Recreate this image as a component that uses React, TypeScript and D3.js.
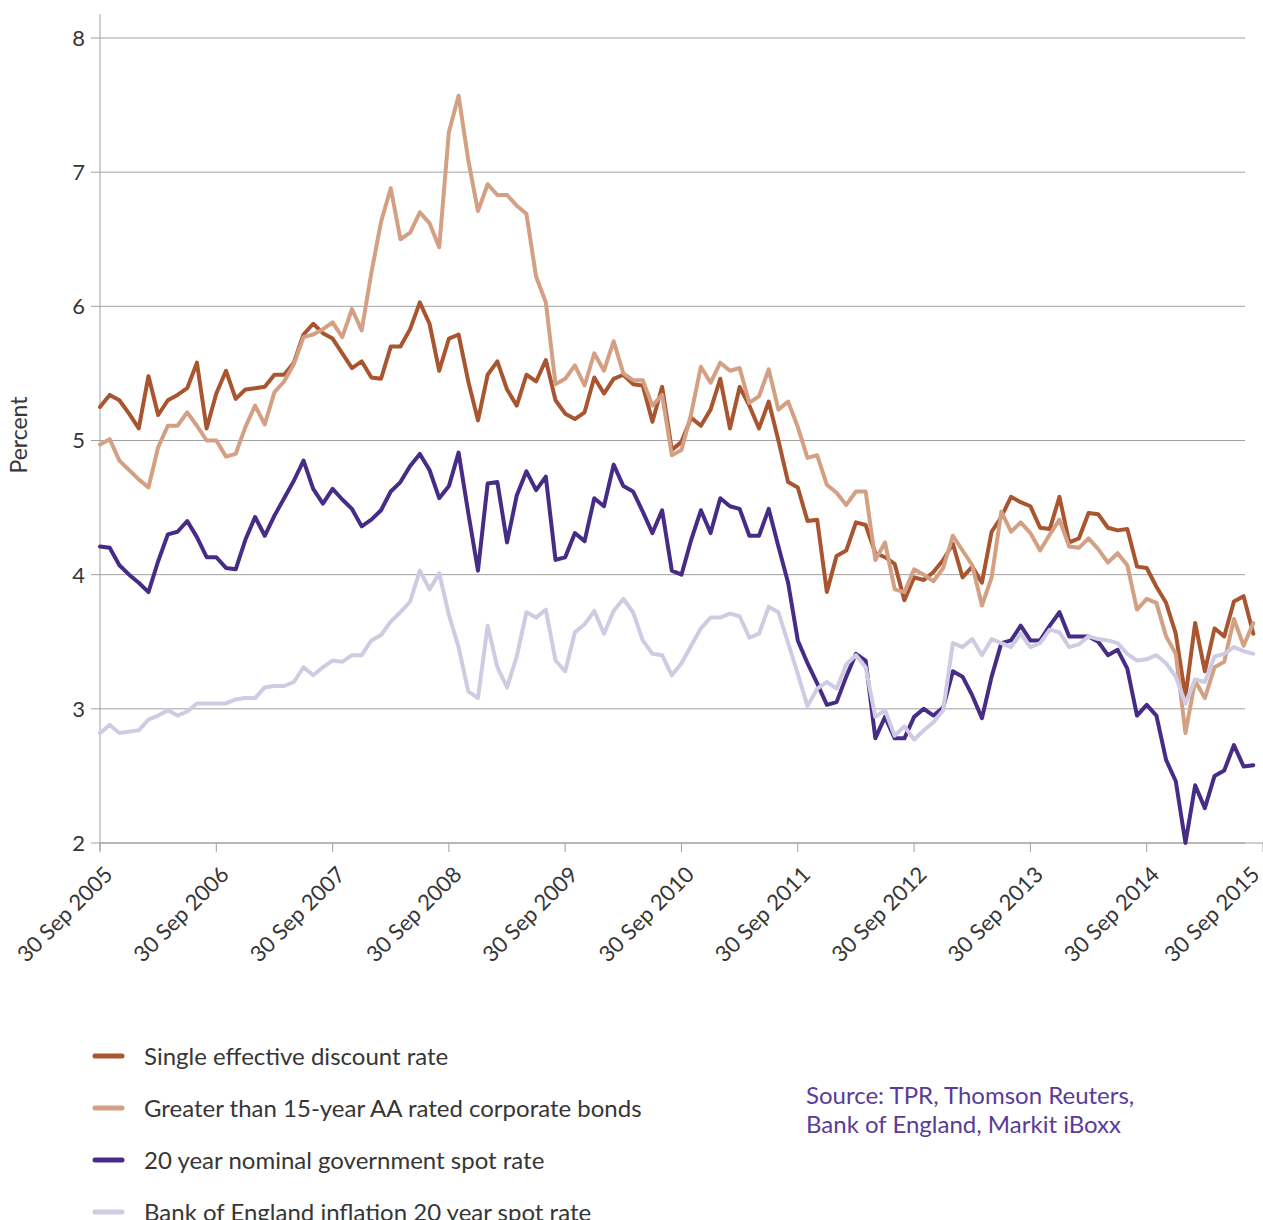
import React from 'react';
import * as d3 from 'd3';

const tickLabels = [
  '30 Sep 2005', '30 Sep 2006', '30 Sep 2007', '30 Sep 2008', '30 Sep 2009', '30 Sep 2010',
  '30 Sep 2011', '30 Sep 2012', '30 Sep 2013', '30 Sep 2014', '30 Sep 2015',
];
const yTicks = [2, 3, 4, 5, 6, 7, 8];

// Monthly observations from 30 Sep 2005
const sedr = [
  5.25, 5.34, 5.30, 5.20, 5.09, 5.48, 5.19, 5.30, 5.34, 5.39,
  5.58, 5.09, 5.35, 5.52, 5.31, 5.38, 5.39, 5.40, 5.49, 5.49,
  5.58, 5.79, 5.87, 5.80, 5.76, 5.65, 5.54, 5.59, 5.47, 5.46,
  5.70, 5.70, 5.83, 6.03, 5.87, 5.52, 5.76, 5.79, 5.44, 5.15,
  5.49, 5.59, 5.38, 5.26, 5.49, 5.44, 5.60, 5.30, 5.20, 5.16,
  5.21, 5.47, 5.35, 5.46, 5.49, 5.42, 5.41, 5.14, 5.40, 4.93,
  4.99, 5.17, 5.11, 5.23, 5.46, 5.09, 5.40, 5.26, 5.09, 5.29,
  5.00, 4.69, 4.65, 4.40, 4.41, 3.87, 4.14, 4.18, 4.39, 4.37,
  4.16, 4.13, 4.08, 3.81, 3.98, 3.96, 4.02, 4.11, 4.23, 3.98,
  4.06, 3.94, 4.32, 4.43, 4.58, 4.54, 4.51, 4.35, 4.34, 4.58,
  4.24, 4.27, 4.46, 4.45, 4.35, 4.33, 4.34, 4.06, 4.05, 3.91,
  3.79, 3.56, 3.09, 3.64, 3.28, 3.60, 3.54, 3.80, 3.84, 3.56,
];
const corporate = [
  4.97, 5.01, 4.85, 4.78, 4.71, 4.65, 4.95, 5.11, 5.11, 5.21,
  5.11, 5.00, 5.00, 4.88, 4.90, 5.10, 5.26, 5.12, 5.36, 5.44,
  5.57, 5.77, 5.79, 5.83, 5.88, 5.77, 5.98, 5.82, 6.25, 6.63,
  6.88, 6.50, 6.55, 6.70, 6.62, 6.44, 7.30, 7.57, 7.09, 6.71,
  6.91, 6.83, 6.83, 6.75, 6.69, 6.22, 6.03, 5.42, 5.46, 5.56,
  5.41, 5.65, 5.52, 5.74, 5.50, 5.45, 5.45, 5.26, 5.34, 4.89,
  4.93, 5.20, 5.55, 5.43, 5.58, 5.52, 5.54, 5.28, 5.33, 5.53,
  5.23, 5.29, 5.10, 4.87, 4.89, 4.67, 4.61, 4.52, 4.62, 4.62,
  4.11, 4.24, 3.89, 3.87, 4.04, 4.00, 3.95, 4.05, 4.29, 4.18,
  4.07, 3.77, 3.98, 4.47, 4.32, 4.39, 4.31, 4.18, 4.30, 4.41,
  4.21, 4.20, 4.27, 4.19, 4.09, 4.16, 4.07, 3.74, 3.82, 3.79,
  3.54, 3.41, 2.82, 3.21, 3.08, 3.31, 3.35, 3.67, 3.47, 3.64,
];
const gilt = [
  4.21, 4.20, 4.07, 4.00, 3.94, 3.87, 4.10, 4.30, 4.32, 4.40,
  4.28, 4.13, 4.13, 4.05, 4.04, 4.26, 4.43, 4.29, 4.44, 4.57,
  4.70, 4.85, 4.64, 4.53, 4.64, 4.56, 4.49, 4.36, 4.41, 4.48,
  4.62, 4.69, 4.81, 4.90, 4.78, 4.57, 4.66, 4.91, 4.46, 4.03,
  4.68, 4.69, 4.24, 4.59, 4.77, 4.63, 4.73, 4.11, 4.13, 4.31,
  4.25, 4.57, 4.51, 4.82, 4.66, 4.62, 4.47, 4.31, 4.48, 4.03,
  4.00, 4.26, 4.48, 4.31, 4.57, 4.51, 4.49, 4.29, 4.29, 4.49,
  4.21, 3.94, 3.51, 3.34, 3.19, 3.03, 3.05, 3.24, 3.41, 3.36,
  2.78, 2.94, 2.78, 2.78, 2.94, 3.00, 2.95, 3.01, 3.28, 3.24,
  3.10, 2.93, 3.24, 3.49, 3.51, 3.62, 3.51, 3.51, 3.62, 3.72,
  3.54, 3.54, 3.54, 3.50, 3.40, 3.44, 3.30, 2.95, 3.03, 2.95,
  2.62, 2.46, 2.00, 2.43, 2.26, 2.50, 2.54, 2.73, 2.57, 2.58,
];
const inflation = [
  2.82, 2.88, 2.82, 2.83, 2.84, 2.92, 2.95, 2.99, 2.95, 2.98,
  3.04, 3.04, 3.04, 3.04, 3.07, 3.08, 3.08, 3.16, 3.17, 3.17,
  3.20, 3.31, 3.25, 3.31, 3.36, 3.35, 3.40, 3.40, 3.51, 3.55,
  3.65, 3.72, 3.80, 4.03, 3.89, 4.01, 3.70, 3.46, 3.13, 3.08,
  3.62, 3.31, 3.16, 3.39, 3.72, 3.68, 3.74, 3.36, 3.28, 3.57,
  3.63, 3.73, 3.56, 3.73, 3.82, 3.72, 3.51, 3.41, 3.40, 3.25,
  3.34, 3.47, 3.60, 3.68, 3.68, 3.71, 3.69, 3.53, 3.56, 3.76,
  3.72, 3.49, 3.26, 3.02, 3.15, 3.20, 3.15, 3.33, 3.40, 3.31,
  2.94, 2.99, 2.80, 2.87, 2.77, 2.84, 2.90, 2.99, 3.49, 3.46,
  3.52, 3.40, 3.52, 3.49, 3.46, 3.56, 3.46, 3.49, 3.59, 3.57,
  3.46, 3.48, 3.54, 3.52, 3.51, 3.49, 3.41, 3.36, 3.37, 3.40,
  3.34, 3.24, 3.04, 3.22, 3.20, 3.39, 3.41, 3.46, 3.43, 3.41,
];

const seriesNames = [
  'Single effective discount rate',
  'Greater than 15-year AA rated corporate bonds',
  '20 year nominal government spot rate',
  'Bank of England inflation 20 year spot rate',
];
const seriesColors = ['#a9552f', '#d3a084', '#472c87', '#cfcbe2'];
const seriesData = [sedr, corporate, gilt, inflation];
const sourceLines = ['Source: TPR, Thomson Reuters,', 'Bank of England, Markit iBoxx'];

export default function App() {
  const W = 1263;
  const H = 1220;
  const x = d3.scaleLinear().domain([0, 120]).range([100, 1263]);
  const y = d3.scaleLinear().domain([2, 8]).range([843, 38]);
  const line = d3
    .line<number>()
    .x((_, i) => x(i))
    .y((d) => y(d));
  const font = 'Lato, "Open Sans", sans-serif';
  const grid = '#a0a0a0';
  const textCol = '#363636';

  return (
    <svg
      width={W}
      height={H}
      style={{ position: 'absolute', left: 0, top: 0, background: '#fff' }}
      fontFamily={font}
    >
      {yTicks.map((t) => (
        <g key={t}>
          <line x1={91} x2={1245} y1={y(t)} y2={y(t)} stroke={grid} strokeWidth={1} />
          <text x={85} y={y(t)} dy="0.36em" textAnchor="end" fontSize={22} fill={textCol}>
            {t}
          </text>
        </g>
      ))}
      <line x1={x(0)} x2={x(0)} y1={14} y2={851} stroke={grid} strokeWidth={1} />
      <line x1={x(0)} x2={x(120)} y1={y(2)} y2={y(2)} stroke={grid} strokeWidth={1} />
      {tickLabels.map((lab, i) => {
        const tx = x(i * 12);
        const ax = Math.min(tx + 14, W - 2);
        return (
          <g key={lab}>
            <line x1={tx} x2={tx} y1={y(2)} y2={y(2) + 9} stroke={grid} strokeWidth={1} />
            <text
              transform={`translate(${ax},${y(2) + 33}) rotate(-45)`}
              textAnchor="end"
              fontSize={22}
              fill={textCol}
            >
              {lab}
            </text>
          </g>
        );
      })}
      <text
        transform={`translate(27,${435}) rotate(-90)`}
        textAnchor="middle"
        fontSize={23}
        fill={textCol}
      >
        Percent
      </text>
      {seriesData.map((s, i) => (
        <path
          key={seriesNames[i]}
          d={line(s) || ''}
          fill="none"
          stroke={seriesColors[i]}
          strokeWidth={4}
          strokeLinejoin="round"
          strokeLinecap="round"
        />
      ))}
      {seriesNames.map((n, i) => {
        const ly = 1056 + i * 52;
        return (
          <g key={n}>
            <line x1={95} x2={122} y1={ly} y2={ly} stroke={seriesColors[i]} strokeWidth={5} strokeLinecap="round" />
            <text x={144} y={ly} dy="0.36em" fontSize={24} fill={textCol}>
              {n}
            </text>
          </g>
        );
      })}
      {sourceLines.map((s, i) => (
        <text key={s} x={806} y={1095 + i * 29} dy="0.36em" fontSize={24} fill="#5a3b98">
          {s}
        </text>
      ))}
    </svg>
  );
}
